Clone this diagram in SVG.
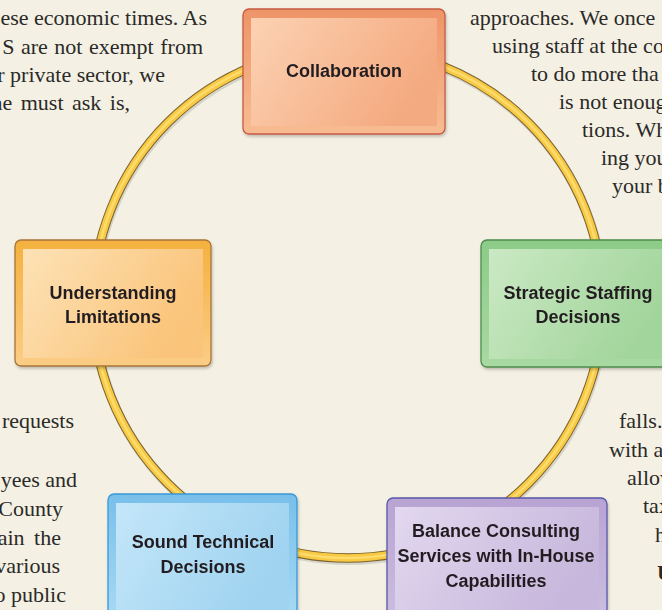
<svg xmlns="http://www.w3.org/2000/svg" width="662" height="610" viewBox="0 0 662 610">
<defs>
<style>
.bg{font-family:"Liberation Serif","Times New Roman",serif;font-size:22px;fill:#2b2a28}
.lbl{font-family:"Liberation Sans",Arial,sans-serif;font-size:18px;font-weight:bold;fill:#231f20;text-anchor:middle}
.frame{stroke-width:1.3}
</style>
<filter id="sh" x="-10%" y="-10%" width="125%" height="125%">
<feDropShadow dx="1" dy="2" stdDeviation="1.5" flood-color="#000" flood-opacity="0.22"/>
</filter>
<linearGradient id="oC" x1="0" y1="0" x2="0" y2="1"><stop offset="0" stop-color="#ee9468"/><stop offset="1" stop-color="#f8bc92"/></linearGradient>
<linearGradient id="iC" x1="0" y1="0" x2="1" y2="0.4"><stop offset="0" stop-color="#fcd2b3"/><stop offset="1" stop-color="#f4aa80"/></linearGradient>
<linearGradient id="oU" x1="0" y1="0" x2="0" y2="1"><stop offset="0" stop-color="#f4b13e"/><stop offset="1" stop-color="#fbcd85"/></linearGradient>
<linearGradient id="iU" x1="0" y1="0" x2="1" y2="0.4"><stop offset="0" stop-color="#fde2b6"/><stop offset="1" stop-color="#fac47a"/></linearGradient>
<linearGradient id="oS" x1="0" y1="0" x2="0" y2="1"><stop offset="0" stop-color="#8ccb88"/><stop offset="1" stop-color="#a8d9a2"/></linearGradient>
<linearGradient id="iS" x1="0" y1="0" x2="1" y2="0.4"><stop offset="0" stop-color="#cbe9c4"/><stop offset="1" stop-color="#a2d59b"/></linearGradient>
<linearGradient id="oT" x1="0" y1="0" x2="0" y2="1"><stop offset="0" stop-color="#78bfea"/><stop offset="1" stop-color="#a9dbf5"/></linearGradient>
<linearGradient id="iT" x1="0" y1="0" x2="1" y2="0.4"><stop offset="0" stop-color="#c4e6f9"/><stop offset="1" stop-color="#9fd3f0"/></linearGradient>
<linearGradient id="oB" x1="0" y1="0" x2="0" y2="1"><stop offset="0" stop-color="#b8a3d3"/><stop offset="1" stop-color="#ccbfe1"/></linearGradient>
<linearGradient id="iB" x1="0" y1="0" x2="1" y2="0.4"><stop offset="0" stop-color="#e2d8ef"/><stop offset="1" stop-color="#c7b7dc"/></linearGradient>
</defs>
<rect x="0" y="0" width="662" height="610" fill="#f4f1e4"/>

<g id="page-text" class="bg">
<text x="207" y="25" text-anchor="end">ese economic times. As</text>
<text x="203" y="54" text-anchor="end" word-spacing="1">S are not exempt from</text>
<text x="165" y="82" text-anchor="end">r private sector, we</text>
<text x="130" y="110" text-anchor="end" word-spacing="3">ne must ask is,</text>
<text x="470" y="25">approaches. We once</text>
<text x="492" y="53">using staff at the co</text>
<text x="531" y="81">to do more tha</text>
<text x="559" y="109">is not enoug</text>
<text x="582" y="137">tions. Wh</text>
<text x="601" y="165">ing you</text>
<text x="612" y="193">your b</text>
<text x="74" y="428" text-anchor="end">requests</text>
<text x="77" y="487" text-anchor="end">yees and</text>
<text x="63" y="516" text-anchor="end">County</text>
<text x="61" y="545" text-anchor="end" word-spacing="4">ain the</text>
<text x="60" y="573" text-anchor="end">various</text>
<text x="66" y="602" text-anchor="end">o public</text>
<text x="619" y="428">falls.</text>
<text x="609" y="457">with a</text>
<text x="627" y="485">allow</text>
<text x="643" y="513">tax</text>
<text x="655" y="542">h</text>
<text x="657" y="580" font-weight="bold">U</text>
</g>

<g id="connectors">
<circle cx="349" cy="305" r="255" fill="none" stroke="#000" stroke-opacity="0.12" stroke-width="10"/>
<circle cx="348" cy="303" r="255" fill="none" stroke="#7a6130" stroke-width="9.5"/>
<circle cx="348" cy="303" r="255" fill="none" stroke="#f8c943" stroke-width="7.5"/>
<circle cx="348" cy="303" r="255" fill="none" stroke="#fddc6e" stroke-width="2.5"/>
</g>

<g id="node-collaboration" filter="url(#sh)">
<rect class="frame" x="243" y="9" width="202" height="125" rx="6" fill="url(#oC)" stroke="#c65a44"/>
<rect x="251" y="18" width="186" height="108" fill="url(#iC)"/>
<text class="lbl" x="344" y="77">Collaboration</text>
</g>

<g id="node-understanding" filter="url(#sh)">
<rect class="frame" x="15" y="240" width="196" height="126" rx="6" fill="url(#oU)" stroke="#a8743a"/>
<rect x="23" y="249" width="180" height="109" fill="url(#iU)"/>
<text class="lbl" x="113" y="299">Understanding</text>
<text class="lbl" x="113" y="323">Limitations</text>
</g>

<g id="node-strategic" filter="url(#sh)">
<rect class="frame" x="481" y="240" width="196" height="127" rx="6" fill="url(#oS)" stroke="#4e8c4e"/>
<rect x="489" y="249" width="180" height="110" fill="url(#iS)"/>
<text class="lbl" x="578" y="299">Strategic Staffing</text>
<text class="lbl" x="578" y="323">Decisions</text>
</g>

<g id="node-sound" filter="url(#sh)">
<rect class="frame" x="108" y="494" width="189" height="130" rx="6" fill="url(#oT)" stroke="#3a98d6"/>
<rect x="116" y="503" width="173" height="112" fill="url(#iT)"/>
<text class="lbl" x="203" y="548">Sound Technical</text>
<text class="lbl" x="203" y="573">Decisions</text>
</g>

<g id="node-balance" filter="url(#sh)">
<rect class="frame" x="387" y="498" width="220" height="126" rx="6" fill="url(#oB)" stroke="#5858a8"/>
<rect x="395" y="507" width="204" height="110" fill="url(#iB)"/>
<text class="lbl" x="496" y="537">Balance Consulting</text>
<text class="lbl" x="496" y="562">Services with In-House</text>
<text class="lbl" x="496" y="587">Capabilities</text>
</g>
</svg>
